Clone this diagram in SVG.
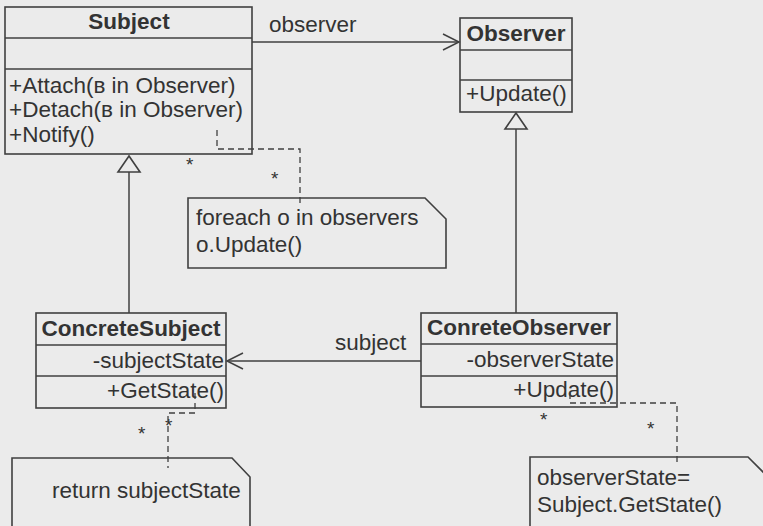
<svg xmlns="http://www.w3.org/2000/svg" width="763" height="526" viewBox="0 0 763 526">
  <style>
    .box { fill: none; stroke: #404040; stroke-width: 1.6; }
    .line { fill: none; stroke: #404040; stroke-width: 1.5; }
    .dash { fill: none; stroke: #404040; stroke-width: 1.3; stroke-dasharray: 6 4; }
    .head { fill: none; stroke: #404040; stroke-width: 1.5; stroke-linejoin: miter; }
    .tri { fill: #ebebeb; stroke: #404040; stroke-width: 1.6; }
    text { font-family: "Liberation Sans", Arial, sans-serif; font-size: 22.5px; fill: #333333; }
    .title { font-weight: bold; }
    .mid { text-anchor: middle; }
    .end { text-anchor: end; }
    .star { font-size: 19px; }
  </style>

  <rect x="0" y="0" width="763" height="526" fill="#ebebeb"/>

  <!-- Subject class -->
  <g id="subject">
    <rect class="box" x="5" y="7" width="247" height="147"/>
    <line class="box" x1="5" y1="38" x2="252" y2="38"/>
    <line class="box" x1="5" y1="69" x2="252" y2="69"/>
    <text class="title mid" x="129" y="29">Subject</text>
    <text x="9" y="93">+Attach(в in Observer)</text>
    <text x="9" y="117">+Detach(в in Observer)</text>
    <text x="9" y="142">+Notify()</text>
  </g>

  <!-- Observer class -->
  <g id="observer">
    <rect class="box" x="460" y="18" width="112" height="94"/>
    <line class="box" x1="460" y1="50" x2="572" y2="50"/>
    <line class="box" x1="460" y1="80" x2="572" y2="80"/>
    <text class="title mid" x="516" y="41">Observer</text>
    <text x="466" y="101">+Update()</text>
  </g>

  <!-- ConcreteSubject class -->
  <g id="concrete-subject">
    <rect class="box" x="36" y="313" width="190" height="95"/>
    <line class="box" x1="36" y1="345" x2="226" y2="345"/>
    <line class="box" x1="36" y1="376" x2="226" y2="376"/>
    <text class="title mid" x="131" y="336">ConcreteSubject</text>
    <text class="end" x="224" y="368">-subjectState</text>
    <text class="end" x="224" y="398">+GetState()</text>
  </g>

  <!-- ConreteObserver class -->
  <g id="concrete-observer">
    <rect class="box" x="421" y="313" width="196" height="94"/>
    <line class="box" x1="421" y1="344" x2="617" y2="344"/>
    <line class="box" x1="421" y1="376" x2="617" y2="376"/>
    <text class="title mid" x="519" y="335">ConreteObserver</text>
    <text class="end" x="614" y="367">-observerState</text>
    <text class="end" x="614" y="397">+Update()</text>
  </g>

  <!-- Notes -->
  <g id="note-notify">
    <path class="box" d="M188,198 H425 L446,219 V268 H188 Z"/>
    <text x="196" y="225">foreach o in observers</text>
    <text x="196" y="252">o.Update()</text>
  </g>

  <g id="note-getstate">
    <path class="box" d="M12,458 H232 L250,477 V530 H12 Z"/>
    <text x="52" y="498">return subjectState</text>
  </g>

  <g id="note-update">
    <path class="box" d="M530,457 H748 L766,475 V530 H530 Z"/>
    <text x="537" y="485">observerState=</text>
    <text x="537" y="512">Subject.GetState()</text>
  </g>

  <!-- Connectors -->
  <g id="connectors">
    <!-- association Subject -> Observer -->
    <line class="line" x1="252" y1="42" x2="459" y2="42"/>
    <polyline class="head" points="443,34 459,42 443,50"/>
    <text x="269" y="32">observer</text>

    <!-- association ConreteObserver -> ConcreteSubject -->
    <line class="line" x1="421" y1="361" x2="227" y2="361"/>
    <polyline class="head" points="243,353 227,361 243,369"/>
    <text x="335" y="350">subject</text>

    <!-- generalization ConcreteSubject -> Subject -->
    <line class="line" x1="129" y1="172" x2="129" y2="313"/>
    <polygon class="tri" points="129,156 118,172 140,172"/>

    <!-- generalization ConreteObserver -> Observer -->
    <line class="line" x1="516" y1="129" x2="516" y2="313"/>
    <polygon class="tri" points="516,113 505,129 527,129"/>

    <!-- note anchors -->
    <path class="dash" d="M217,130 V149 H300 V207"/>
    <path class="dash" d="M195,393 V413 H168 V468"/>
    <path class="dash" d="M570,393 V403 H677 V466"/>

    <text class="star" x="186" y="171">*</text>
    <text class="star" x="271" y="185">*</text>
    <text class="star" x="138" y="440">*</text>
    <text class="star" x="165" y="432">*</text>
    <text class="star" x="540" y="426">*</text>
    <text class="star" x="647" y="435">*</text>
  </g>
</svg>
